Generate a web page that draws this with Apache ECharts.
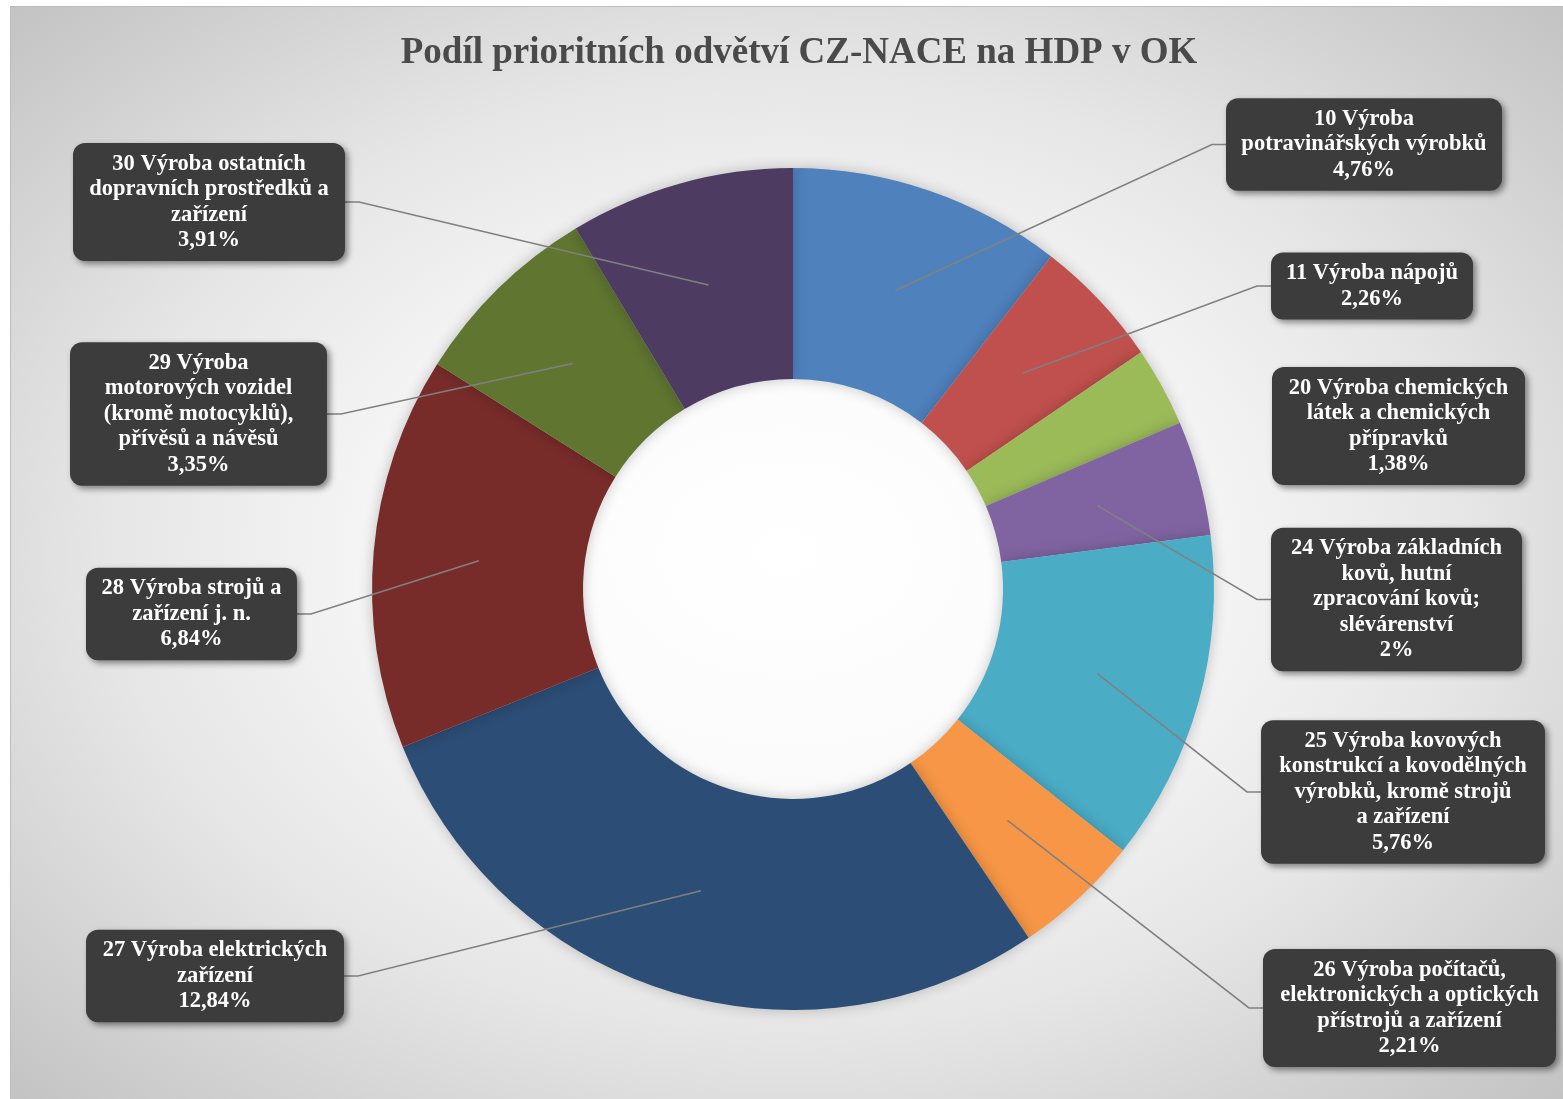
<!DOCTYPE html>
<html>
<head>
<meta charset="utf-8">
<script src="https://cdn.jsdelivr.net/npm/echarts@6/dist/echarts.min.js"></script>
<style>
html,body{margin:0;padding:0;width:1563px;height:1099px;background:#fff;overflow:hidden;}
#bg{position:absolute;left:10px;top:6px;width:1553px;height:1093px;border-top:1px solid #bcbcbc;border-left:1px solid #bcbcbc;box-sizing:border-box;
background:radial-gradient(ellipse farthest-corner at 50% 50%, #ffffff 0%, #fbfbfb 28%, #e6e6e6 62%, #c3c3c3 100%);}
#main{position:absolute;left:0;top:0;width:1563px;height:1099px;}
</style>
</head>
<body>
<div id="bg"></div>
<div id="main"></div>
<script>
// ---- data ----
const categories = [
  "10 Výroba\npotravinářských výrobků",
  "11 Výroba nápojů",
  "20 Výroba chemických\nlátek a chemických\npřípravků",
  "24 Výroba základních\nkovů, hutní\nzpracování kovů;\nslévárenství",
  "25 Výroba kovových\nkonstrukcí a kovodělných\nvýrobků, kromě strojů\na zařízení",
  "26 Výroba počítačů,\nelektronických a optických\npřístrojů a zařízení",
  "27 Výroba elektrických\nzařízení",
  "28 Výroba strojů a\nzařízení j. n.",
  "29 Výroba\nmotorových vozidel\n(kromě motocyklů),\npřívěsů a návěsů",
  "30 Výroba ostatních\ndopravních prostředků a\nzařízení"
];
const shares = [4.76, 2.26, 1.38, 2, 5.76, 2.21, 12.84, 6.84, 3.35, 3.91];
const titleText = "Podíl prioritních odvětví CZ-NACE na HDP v OK";

// ---- layout / style (not data) ----
const colors = ['#4F81BD','#C0504D','#9BBB59','#8064A2','#4BACC6','#F79646','#2C4D75','#772C2A','#5F7530','#4D3B62'];
const boxCenters = [[1364,144.5],[1372,286],[1398.5,426],[1396.5,599.5],[1403,792],[1409.5,1008],[215,976],[191.5,614],[198.5,414],[209,202]];
const boxWidths = [276,202,253,251,284,293,258,211,257,272];
const showLine = [true,true,false,true,true,true,true,true,true,true];
const FONT = '"Liberation Serif", "DejaVu Serif", serif';
const HPAD = 6;

function fmtPct(v){ return String(v).replace('.', ',') + '%'; }

const chart = echarts.init(document.getElementById('main'), null, {renderer:'canvas'});

const baseData = categories.map((name, i) => ({
  name: name,
  value: shares[i],
  itemStyle: {color: colors[i]}
}));
const labelData = categories.map((name, i) => ({
  name: name,
  value: shares[i],
  label: {width: boxWidths[i] - 2*HPAD},
  labelLine: {show: showLine[i]}
}));

const option = {
  animation: false,
  backgroundColor: 'transparent',
  title: {
    text: titleText,
    left: 794,
    textAlign: 'center',
    top: 30,
    textStyle: {fontFamily: FONT, fontWeight: 'bold', fontSize: 37, color: '#4a4a4a'}
  },
  series: [{
    type: 'pie',
    z: 2,
    center: [793, 589],
    radius: [210, 421],
    startAngle: 90,
    clockwise: true,
    silent: true,
    itemStyle: {shadowBlur: 14, shadowColor: 'rgba(0,0,0,0.22)'},
    emphasis: {disabled: true},
    label: {show: false},
    labelLine: {show: false},
    data: baseData
  }, {
    type: 'pie',
    z: 5,
    center: [793, 589],
    radius: [210, 421],
    startAngle: 90,
    clockwise: true,
    silent: true,
    avoidLabelOverlap: false,
    itemStyle: {color: 'rgba(0,0,0,0)'},
    emphasis: {disabled: true},
    data: labelData,
    label: {
      show: true,
      position: 'outside',
      formatter: p => p.name + '\n' + fmtPct(p.value),
      color: '#ffffff',
      fontFamily: FONT,
      fontWeight: 'bold',
      fontSize: 22.5,
      lineHeight: 25.5,
      align: 'center',
      backgroundColor: '#3c3c3c',
      borderRadius: 12,
      padding: [10, HPAD, 6, HPAD],
      shadowColor: 'rgba(0,0,0,0.45)',
      shadowBlur: 6,
      shadowOffsetX: 3,
      shadowOffsetY: 3
    },
    labelLine: {
      show: true,
      lineStyle: {color: '#808080', width: 1.6}
    },
    labelLayout: function (params) {
      const i = params.dataIndex;
      const c = boxCenters[i];
      const w = boxWidths[i];
      const lay = chart.getModel().getSeriesByIndex(params.seriesIndex).getData().getItemLayout(i);
      const mid = (lay.startAngle + lay.endAngle) / 2;
      const rm = (lay.r + lay.r0) / 2;
      const sx = lay.cx + rm * Math.cos(mid);
      const sy = lay.cy + rm * Math.sin(mid);
      const right = c[0] > lay.cx;
      const ex = right ? c[0] - w/2 : c[0] + w/2;
      const kx = right ? ex - 14 : ex + 14;
      return {
        x: c[0], y: c[1],
        align: 'center', verticalAlign: 'middle',
        labelLinePoints: [[sx, sy], [kx, c[1]], [ex, c[1]]]
      };
    }
  }]
};
chart.setOption(option);
</script>
</body>
</html>
